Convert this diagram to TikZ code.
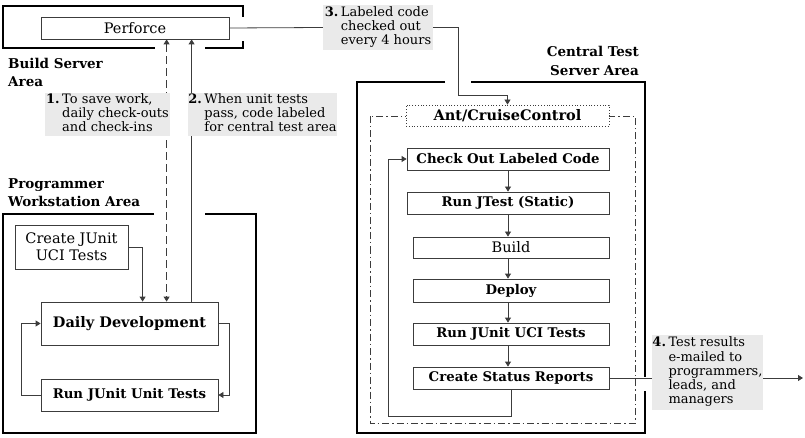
\documentclass[tikz,border=0pt]{standalone}
\usepackage{fontspec}
\setmainfont{DejaVu Serif}
\usetikzlibrary{arrows.meta,calc}
\definecolor{lg}{RGB}{234,234,234}
\definecolor{ln}{RGB}{60,60,60}
\tikzset{
  box/.style={draw=ln,line width=0.8pt,fill=white,inner sep=0pt,font=\fontsize{14.5}{16}\selectfont},
  bbox/.style={box,font=\fontsize{13.3}{16}\selectfont\bfseries},
  area/.style={draw=black,line width=1.6pt},
  conn/.style={draw=ln,line width=0.8pt},
  arr/.style={conn,-{Triangle[length=5pt,width=6pt]}},
  note/.style={fill=lg,inner sep=0pt,font=\fontsize{13}{14.2}\selectfont},
  arealabel/.style={inner sep=0pt,font=\fontsize{13.5}{18}\selectfont\bfseries},
}
\newcommand{\notetext}[4]{\begin{tabular}{@{}l@{\hspace{2.5pt}}l@{}}\textbf{#1}&#2\\&#3\\&#4\end{tabular}}
\begin{document}
\begin{tikzpicture}[x=1pt,y=-1pt]
\useasboundingbox (0,0) rectangle (805,438);
% area frames
\draw[area] (243,17) -- (243,6) -- (3,6) -- (3,48) -- (155,48);
\draw[area] (205,48) -- (243,48) -- (243,41);
\draw[area] (154,214) -- (3,214) -- (3,433) -- (256,433) -- (256,214) -- (205,214);
\draw[area] (445,82) -- (357,82) -- (357,433) -- (645,433) -- (645,391);
\draw[area] (471,82) -- (645,82) -- (645,377);
% dash-dot frame
\draw[draw=ln,line width=0.8pt,dash pattern=on 7pt off 3pt on 1.5pt off 3pt] (370,116) rectangle (635,423);
% area labels
\node[arealabel,anchor=north west,align=left] (bsa) at (8,58) {Build Server\\Area};
\node[arealabel,anchor=north west,align=left] (pwa) at (8,178) {Programmer\\Workstation Area};
\node[arealabel,anchor=north east,align=right,font=\fontsize{13.5}{19.5}\selectfont\bfseries] (cta) at (639,46) {Central Test\\Server Area};
% build server
\node[box,minimum width=188pt,minimum height=22pt] (perf) at (135,28) {Perforce};
% workstation
\node[box,minimum width=113pt,minimum height=44pt,align=center,font=\fontsize{14.5}{17}\selectfont] (cj) at (71.5,247) {Create JUnit\\UCI Tests};
\node[bbox,minimum width=177pt,minimum height=43pt,font=\fontsize{14.5}{16}\selectfont\bfseries] (daily) at (129.5,323.5) {Daily Development};
\node[bbox,minimum width=177pt,minimum height=32pt] (rj) at (129.5,395) {Run JUnit Unit Tests};
% central
\node[box,dotted,minimum width=203pt,minimum height=21pt,font=\fontsize{14.5}{16}\selectfont\bfseries] (ant) at (507.5,115.5) {Ant/CruiseControl};
\node[bbox,minimum width=202pt,minimum height=22pt] (chk) at (508,159) {Check Out Labeled Code};
\node[bbox,minimum width=202pt,minimum height=22pt] (jt) at (508,203) {Run JTest (Static)};
\node[box,minimum width=196pt,minimum height=21pt] (bld) at (511,247.5) {Build};
\node[bbox,minimum width=196pt,minimum height=23pt] (dep) at (511,290.5) {Deploy};
\node[bbox,minimum width=196pt,minimum height=22pt] (ruci) at (511,334) {Run JUnit UCI Tests};
\node[bbox,minimum width=196pt,minimum height=22pt] (csr) at (511,378) {Create Status Reports};
\coordinate (out) at (803,378);
% connectors workstation
\draw[arr] (cj.east) -| ([xshift=102pt]daily.north west);
\draw[conn,dashed,dash pattern=on 8pt off 4pt,{Triangle[length=5pt,width=6pt]}-{Triangle[length=5pt,width=6pt]}] ([xshift=126pt]perf.south west) -- ([xshift=126pt]daily.north west);
\draw[arr] ([xshift=151pt]daily.north west) -- ([xshift=151pt]perf.south west);
\draw[arr] (daily.east) -- ++(11,0) |- (rj.east);
\draw[arr] (rj.west) -- ++(-19,0) |- (daily.west);
% connectors central
\draw[arr] (chk.south) -- (jt.north);
\draw[arr] (jt.south) -- (jt.south |- bld.north);
\draw[arr] (jt.south |- bld.south) -- (jt.south |- dep.north);
\draw[arr] (jt.south |- dep.south) -- (jt.south |- ruci.north);
\draw[arr] (jt.south |- ruci.south) -- (jt.south |- csr.north);
\draw[arr] (csr.south) -- ++(0,27) -| ([xshift=-18pt]chk.west) -- (chk.west);
% notes
\node[note,minimum width=125pt,minimum height=43pt] (n1) at (107.5,114.5) {\notetext{1.}{To save work,}{daily check-outs}{and check-ins}};
\node[note,minimum width=147pt,minimum height=43pt] (n2) at (262.5,114.5) {\notetext{2.}{When unit tests}{pass, code labeled}{for central test area}};
\node[note,minimum width=110pt,minimum height=45pt] (n3) at (378,27.5) {\notetext{3.}{Labeled code}{checked out}{every 4 hours}};
\node[note,minimum width=111pt,minimum height=75pt] (n4) at (707.5,372.5) {\begin{tabular}{@{}l@{\hspace{2.5pt}}l@{}}\textbf{4.}&Test results\\&e-mailed to\\&programmers,\\&leads, and\\&managers\end{tabular}};
\draw[conn] (perf.east) -- (n3.west);
\draw[arr] (n3.east) -- ++(25,0) -- ++(0,67.5) -| (ant.north);
\draw[conn] (csr.east) -- (csr.east -| n4.west);
\draw[arr] (csr.east -| n4.east) -- (out);
\end{tikzpicture}
\end{document}
